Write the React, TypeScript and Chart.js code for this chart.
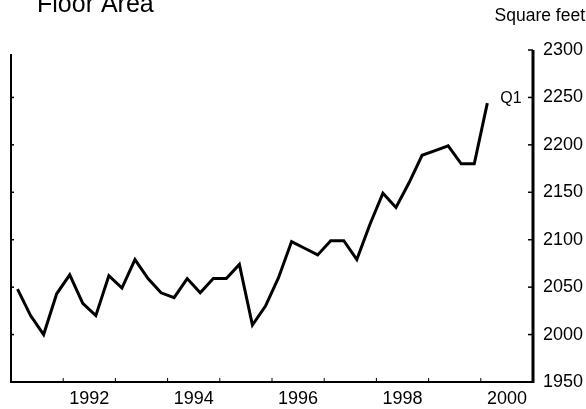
import React, { useEffect, useRef } from "react";
import { Chart, registerables } from "chart.js";

Chart.register(...registerables);

const TITLE = "Floor Area";
const UNIT_LABEL = "Square feet";
const LAST_LABEL = "Q1";
const START_YEAR = 1991;
const END_YEAR = 2001;
const Y_MIN = 1950;
const Y_MAX = 2300;
const Y_STEP = 50;
const LABEL_YEARS = [1992, 1994, 1996, 1998, 2000];

// Quarterly values, 1991 Q1 .. 2000 Q1 (square feet)
const floorArea = [
  2048, 2020, 2000, 2043, 2063, 2033, 2020, 2062, 2049, 2079,
  2059, 2044, 2039, 2059, 2044, 2059, 2059, 2074, 2010, 2030,
  2060, 2098, 2091, 2084, 2099, 2099, 2079, 2116, 2149, 2134,
  2160, 2189, 2194, 2199, 2180, 2180, 2244,
];

const quarterX = floorArea.map((_, i) => START_YEAR + Math.floor(i / 4) + ((i % 4) + 0.5) / 4);

const FONT = "'Liberation Sans', Arial, Helvetica, sans-serif";

const framePlugin = {
  id: "frame",
  afterDraw(chart: any) {
    const { ctx, chartArea } = chart;
    const xs = chart.scales.x;
    const ys = chart.scales.y;
    const { left, right, top, bottom } = chartArea;
    ctx.save();
    ctx.strokeStyle = "#000";
    ctx.lineCap = "butt";
    // left axis
    ctx.lineWidth = 2;
    ctx.beginPath();
    ctx.moveTo(left, top + 4);
    ctx.lineTo(left, bottom);
    ctx.stroke();
    // bottom axis
    ctx.lineWidth = 2;
    ctx.beginPath();
    ctx.moveTo(left - 1, bottom);
    ctx.lineTo(right, bottom);
    ctx.stroke();
    // right axis
    ctx.lineWidth = 3;
    ctx.beginPath();
    ctx.moveTo(right, top);
    ctx.lineTo(right, bottom + 1);
    ctx.stroke();
    // y ticks (inward)
    ctx.lineWidth = 1.5;
    for (let v = Y_MIN; v <= Y_MAX; v += Y_STEP) {
      const y = ys.getPixelForValue(v);
      ctx.beginPath();
      ctx.moveTo(right - 5, y);
      ctx.lineTo(right, y);
      ctx.stroke();
      if (v > Y_MIN && v < Y_MAX) {
        ctx.beginPath();
        ctx.moveTo(left, y);
        ctx.lineTo(left + 3, y);
        ctx.stroke();
      }
    }
    // x ticks (inward) at year boundaries
    ctx.lineWidth = 1;
    for (let yr = START_YEAR + 1; yr < END_YEAR; yr++) {
      const x = xs.getPixelForValue(yr);
      ctx.beginPath();
      ctx.moveTo(x, bottom);
      ctx.lineTo(x, bottom - 4);
      ctx.stroke();
    }
    // texts
    ctx.fillStyle = "#000";
    ctx.textBaseline = "alphabetic";
    ctx.textAlign = "left";
    ctx.font = `25px ${FONT}`;
    ctx.fillText(TITLE, 37, 12);
    ctx.font = `17.5px ${FONT}`;
    ctx.textAlign = "right";
    ctx.fillText(UNIT_LABEL, 585, 21);
    const li = floorArea.length - 1;
    const lx = xs.getPixelForValue(quarterX[li]);
    const ly = ys.getPixelForValue(floorArea[li]);
    ctx.textAlign = "left";
    ctx.textBaseline = "middle";
    ctx.font = `16px ${FONT}`;
    ctx.fillText(LAST_LABEL, lx + 13, ly - 5);
    ctx.restore();
  },
};

export default function App() {
  const ref = useRef<HTMLCanvasElement>(null);
  useEffect(() => {
    document.body.style.margin = "0";
    const canvas = ref.current!;
    const chart = new Chart(canvas, {
      type: "line",
      data: {
        datasets: [
          {
            data: floorArea.map((v, i) => ({ x: quarterX[i], y: v })),
            borderColor: "#000",
            borderWidth: 3,
            pointRadius: 0,
            tension: 0,
            fill: false,
          },
        ],
      },
      options: {
        animation: false,
        responsive: false,
        maintainAspectRatio: false,
        layout: { padding: { left: 11, top: 50, right: 0, bottom: 0 } },
        plugins: { legend: { display: false }, tooltip: { enabled: false }, title: { display: false } },
        scales: {
          x: {
            type: "linear",
            min: START_YEAR,
            max: END_YEAR,
            grid: { display: false, drawTicks: false },
            border: { display: false },
            afterFit: (s: any) => { s.height = 27; },
            afterBuildTicks: (s: any) => {
              s.ticks = LABEL_YEARS.map((y) => ({ value: y + 0.5 }));
            },
            ticks: {
              autoSkip: false,
              maxRotation: 0,
              padding: 6,
              color: "#000",
              font: { family: FONT, size: 18 },
              callback: (v: any) => String(Math.floor(Number(v))),
            },
          },
          y: {
            type: "linear",
            position: "right",
            min: Y_MIN,
            max: Y_MAX,
            grid: { display: false, drawTicks: false },
            border: { display: false },
            afterFit: (s: any) => { s.width = 53; },
            ticks: {
              stepSize: Y_STEP,
              padding: 10,
              color: "#000",
              font: { family: FONT, size: 18 },
              callback: (v: any) => String(v),
            },
          },
        },
      },
      plugins: [framePlugin],
    });
    return () => chart.destroy();
  }, []);
  return <canvas ref={ref} width={586} height={409} style={{ display: "block" }} />;
}
